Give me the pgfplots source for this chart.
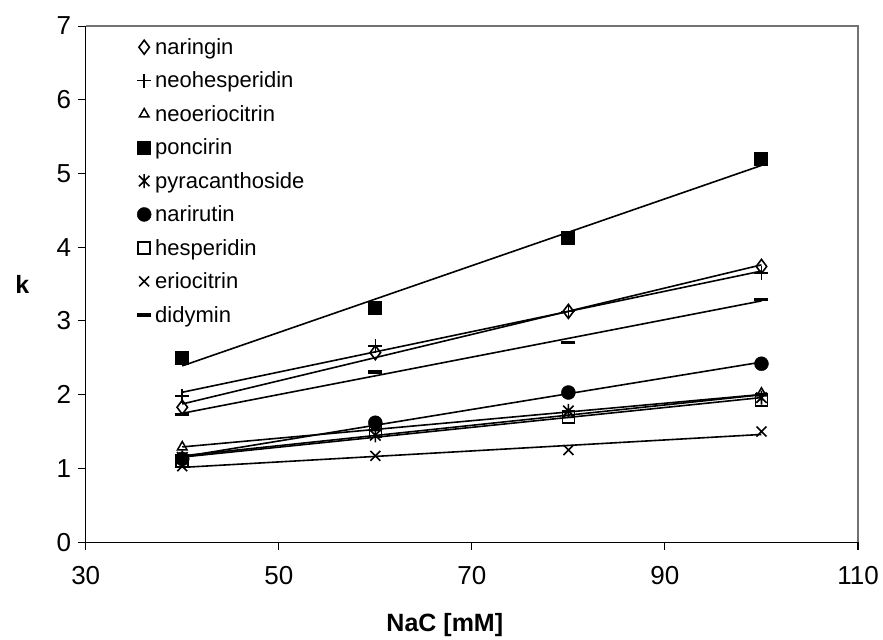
\documentclass[border=0pt]{standalone}
\usepackage{pgfplots}
\pgfplotsset{compat=1.18}
\usepackage{fontspec}
\setmainfont{Liberation Sans}
\pgfdeclareplotmark{xstar}{%
  \pgfpathmoveto{\pgfqpoint{0pt}{\pgfplotmarksize}}%
  \pgfpathlineto{\pgfqpoint{0pt}{-\pgfplotmarksize}}%
  \pgfpathmoveto{\pgfqpoint{-.75\pgfplotmarksize}{.75\pgfplotmarksize}}%
  \pgfpathlineto{\pgfqpoint{.75\pgfplotmarksize}{-.75\pgfplotmarksize}}%
  \pgfpathmoveto{\pgfqpoint{-.75\pgfplotmarksize}{-.75\pgfplotmarksize}}%
  \pgfpathlineto{\pgfqpoint{.75\pgfplotmarksize}{.75\pgfplotmarksize}}%
  \pgfusepathqstroke}
\begin{document}
\begin{tikzpicture}
\begin{axis}[
  name=ax,
  scale only axis,
  width=772pt, height=516pt,
  xmin=30, xmax=110, ymin=0, ymax=7,
  xtick={30,50,70,90,110},
  ytick={0,1,...,7},
  axis lines*=left,
  axis line style={black, line width=1pt},
  tick style={black, line width=1pt},
  major tick length=8pt,
  tick align=outside,
  /pgf/number format/assume math mode=true,
  ticklabel style={font=\fontsize{26}{28}\selectfont},
  xticklabel style={yshift=-13pt},
  yticklabel style={xshift=-3pt},
  xlabel={\textbf{NaC [mM]}},
  ylabel={\textbf{k}},
  label style={font=\fontsize{25}{28}\selectfont},
  xlabel style={at={(0.465,-0.174)}, anchor=base},
  ylabel style={at={(-0.082,0.5)}, anchor=center, rotate=-90},
  legend style={draw=none, fill=none, at={(0.0625,0.984)}, anchor=north west,
    font=\fontsize{22}{24}\selectfont, row sep=12pt,
    nodes={inner xsep=2pt}},
  legend cell align=left,
  legend image code/.code={\draw[#1] plot coordinates {(0pt,0pt)}; \path[draw=none, fill=none] (0pt,0pt) (9pt,0pt);},
  clip=false,
]
% naringin
\addplot[only marks, mark=diamond, mark size=7pt, line width=1.6pt] coordinates {(40,1.83) (60,2.57) (80,3.13) (100,3.74)};
\addlegendentry{naringin}
% neohesperidin
\addplot[only marks, mark=+, mark size=7pt, line width=1.6pt] coordinates {(40,1.98) (60,2.66) (80,3.13) (100,3.65)};
\addlegendentry{neohesperidin}
% neoeriocitrin
\addplot[only marks, mark=triangle, mark size=5.5pt, line width=1.5pt] coordinates {(40,1.29) (60,1.55) (80,1.73) (100,2.02)};
\addlegendentry{neoeriocitrin}
% poncirin
\addplot[only marks, mark=square*, mark size=6.5pt, fill=black, line width=1pt] coordinates {(40,2.50) (60,3.17) (80,4.13) (100,5.20)};
\addlegendentry{poncirin}
% pyracanthoside
\addplot[only marks, mark=xstar, mark size=7pt, line width=1.6pt] coordinates {(40,1.15) (60,1.45) (80,1.78) (100,1.96)};
\addlegendentry{pyracanthoside}
% narirutin
\addplot[only marks, mark=*, mark size=7pt, fill=black] coordinates {(40,1.13) (60,1.62) (80,2.03) (100,2.42)};
\addlegendentry{narirutin}
% hesperidin
\addplot[only marks, mark=square, mark size=6pt, line width=1.6pt] coordinates {(40,1.10) (60,1.50) (80,1.70) (100,1.93)};
\addlegendentry{hesperidin}
% eriocitrin
\addplot[only marks, mark=x, mark size=7pt, line width=1.6pt] coordinates {(40,1.03) (60,1.17) (80,1.25) (100,1.50)};
\addlegendentry{eriocitrin}
% didymin
\addplot[only marks, mark=-, mark size=7pt, line width=3.5pt] coordinates {(40,1.73) (60,2.31) (80,2.71) (100,3.29)};
\addlegendentry{didymin}
% linear trend lines
\addplot[black, line width=1.6pt, forget plot] coordinates {(40,1.874) (100,3.761)};
\addplot[black, line width=1.6pt, forget plot] coordinates {(40,2.033) (100,3.677)};
\addplot[black, line width=1.6pt, forget plot] coordinates {(40,1.292) (100,2.003)};
\addplot[black, line width=1.6pt, forget plot] coordinates {(40,2.391) (100,5.109)};
\addplot[black, line width=1.6pt, forget plot] coordinates {(40,1.171) (100,1.999)};
\addplot[black, line width=1.6pt, forget plot] coordinates {(40,1.158) (100,2.442)};
\addplot[black, line width=1.6pt, forget plot] coordinates {(40,1.154) (100,1.961)};
\addplot[black, line width=1.6pt, forget plot] coordinates {(40,1.014) (100,1.461)};
\addplot[black, line width=1.6pt, forget plot] coordinates {(40,1.748) (100,3.272)};
\draw[gray!90!black, line width=1.5pt] (rel axis cs:0,1) -- (rel axis cs:1,1) -- (rel axis cs:1,0);
\end{axis}
\pgfresetboundingbox
\path (ax.south west) ++(-85.7pt,-97pt) coordinate (bbl);
\path (ax.north east) ++(25pt,26pt) coordinate (btr);
\useasboundingbox (bbl) rectangle (btr);
\end{tikzpicture}
\end{document}
